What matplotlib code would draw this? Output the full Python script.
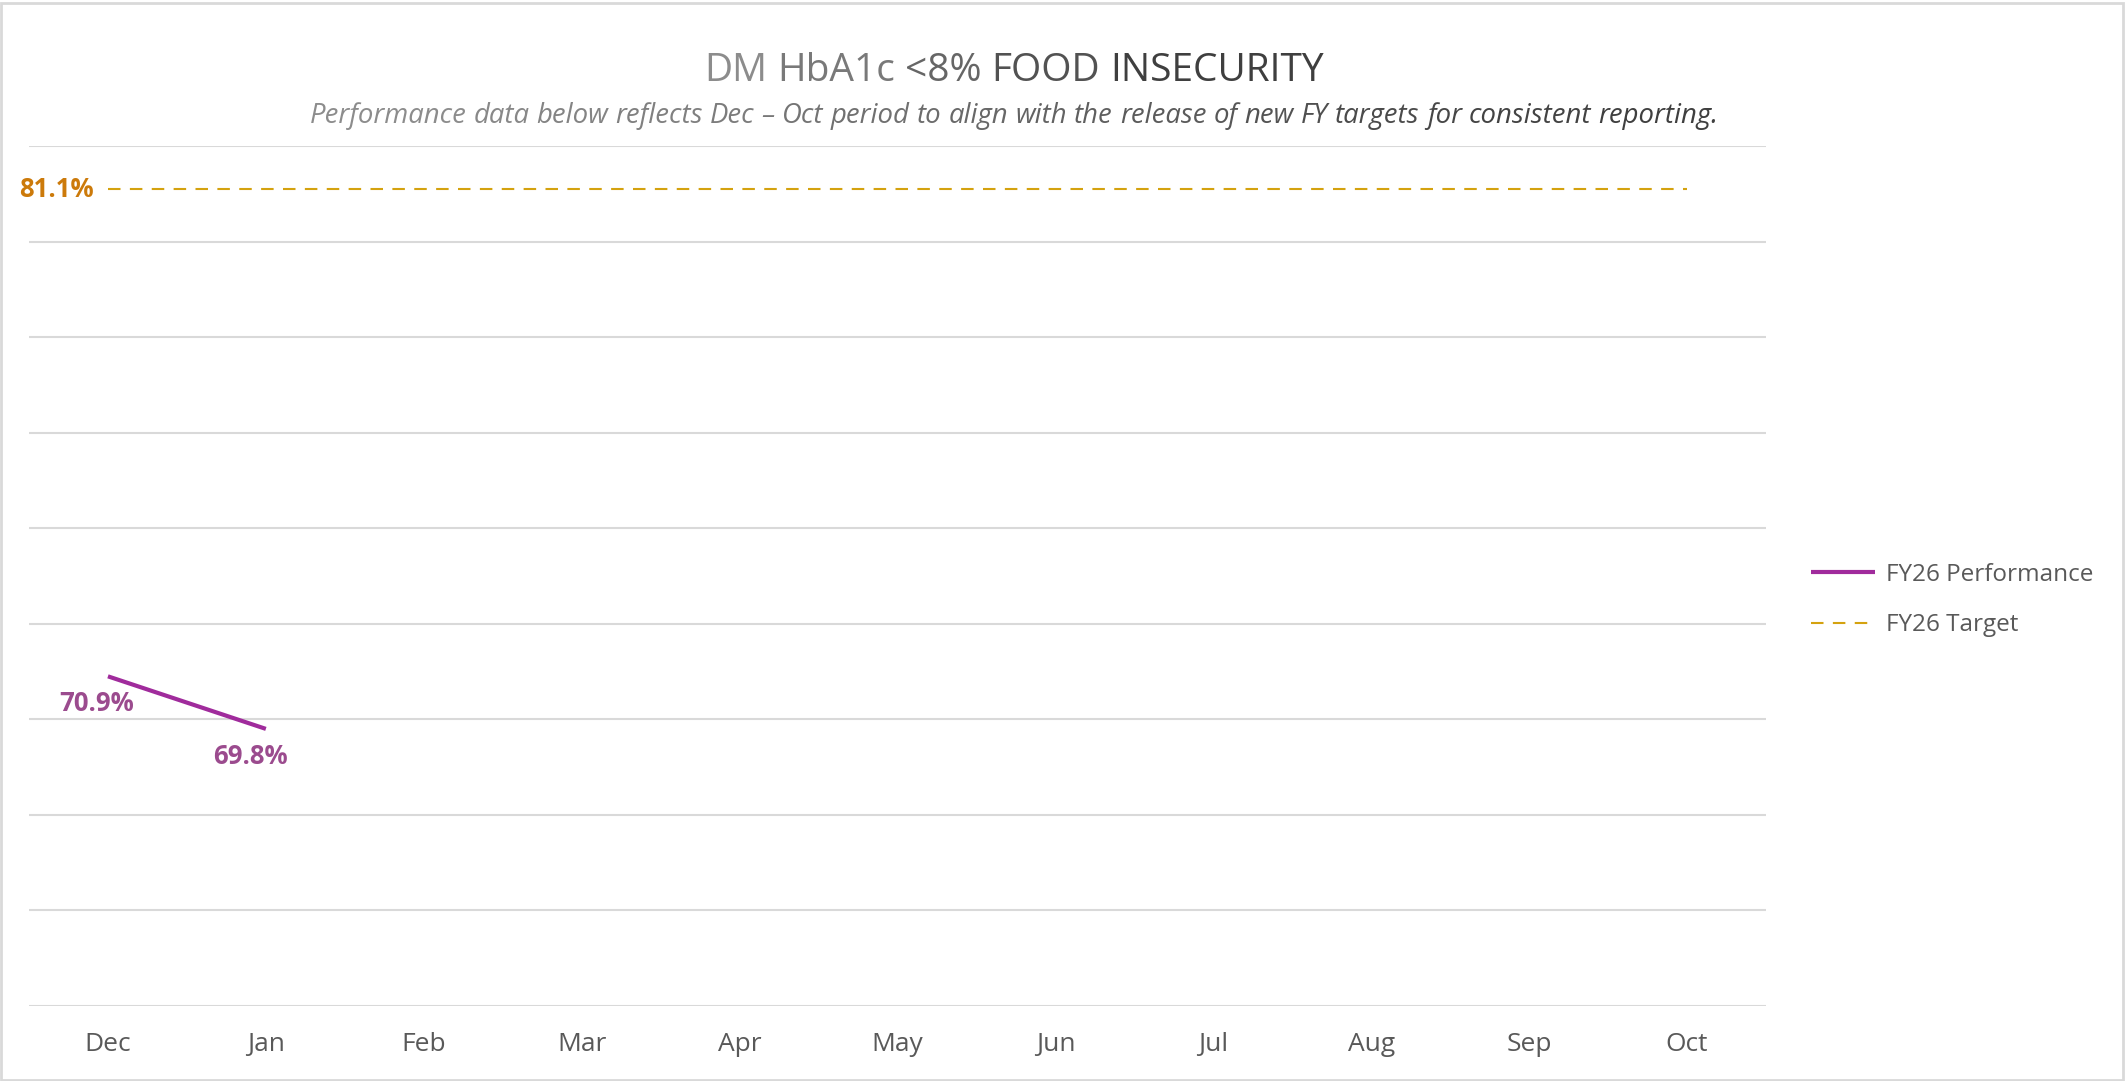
import numpy as np
import matplotlib
matplotlib.use("Agg")
import matplotlib.pyplot as plt
from matplotlib.colors import to_rgb
from matplotlib.patches import Rectangle

plt.rcParams['font.family'] = ['Open Sans', 'DejaVu Sans']

# Data
MONTHS = ["Dec", "Jan", "Feb", "Mar", "Apr", "May", "Jun", "Jul", "Aug", "Sep", "Oct"]
PERFORMANCE = [70.9, 69.8]          # only Dec and Jan reported so far
TARGET = [81.1] * len(MONTHS)
TITLE = "DM HbA1c <8% FOOD INSECURITY"
SUBTITLE = ("Performance data below reflects Dec \u2013 Oct period to align with the "
            "release of new FY targets for consistent reporting.")

W, H = 2125, 1081
PERF_COLOR = "#A02B9C"
PERF_LABEL_COLOR = "#9B4B8E"
TARGET_COLOR = "#D4A20F"
TARGET_LABEL_COLOR = "#CC7A0A"
GRID_COLOR = "#D9D9D9"
TEXT_GRAY = "#595959"


def gradient_text(fig, xc, y, text, c0, c1, **kw):
    """Centered text whose words fade from color c0 to c1."""
    r = fig.canvas.get_renderer()
    words = text.split(" ")
    probe = fig.text(0, 0, text, **kw)
    total = probe.get_window_extent(r).width
    probe.remove()
    sp = fig.text(0, 0, "a a", **kw)
    a = fig.text(0, 0, "aa", **kw)
    space_w = sp.get_window_extent(r).width - a.get_window_extent(r).width
    sp.remove()
    a.remove()
    x = xc * W - total / 2
    c0, c1 = np.array(to_rgb(c0)), np.array(to_rgb(c1))
    n = len(words)
    for i, w in enumerate(words):
        c = c0 + (c1 - c0) * (i / max(n - 1, 1))
        t = fig.text(x / W, y, w, color=c, ha="left", va="center", **kw)
        x += t.get_window_extent(r).width + space_w


fig = plt.figure(figsize=(W / 100, H / 100), dpi=100)
ax = fig.add_axes([29 / W, (H - 1006) / H, (1766 - 29) / W, (1006 - 146) / H])

x = np.arange(len(MONTHS))
ax.plot(x[:len(PERFORMANCE)], PERFORMANCE, color=PERF_COLOR, lw=3.0,
        solid_capstyle="butt", label="FY26 Performance", zorder=3)
ax.plot(x, TARGET, color=TARGET_COLOR, lw=1.5, dashes=(6, 4.5),
        label="FY26 Target", zorder=3)

# data labels
ax.annotate(f"{PERFORMANCE[0]:.1f}%", (x[0], PERFORMANCE[0]), xytext=(-11, -27),
            textcoords="offset pixels", ha="center", va="center",
            color=PERF_LABEL_COLOR, fontsize=18.5, fontweight="bold")
ax.annotate(f"{PERFORMANCE[1]:.1f}%", (x[1], PERFORMANCE[1]), xytext=(-15, -28),
            textcoords="offset pixels", ha="center", va="center",
            color=PERF_LABEL_COLOR, fontsize=18.5, fontweight="bold")
ax.annotate(f"{TARGET[0]:.1f}%", (x[0], TARGET[0]), xytext=(-52, 0),
            textcoords="offset pixels", ha="center", va="center",
            color=TARGET_LABEL_COLOR, fontsize=18.5, fontweight="bold")

ax.set_xlim(-0.5, len(MONTHS) - 0.5)
ax.set_ylim(64, 82)
ax.set_yticks(np.arange(64, 82.1, 2))
ax.set_yticklabels([])
ax.set_xticks(x)
ax.set_xticklabels(MONTHS, color=TEXT_GRAY, fontsize=19)
ax.tick_params(axis="both", length=0)
ax.tick_params(axis="x", pad=19)
ax.grid(axis="y", color=GRID_COLOR, lw=1.5)
ax.set_axisbelow(True)
for s in ax.spines.values():
    s.set_visible(False)

fig.legend(loc="center left", bbox_to_anchor=(1789 / W, 1 - 600 / H),
           frameon=False, fontsize=17.5, labelcolor=TEXT_GRAY,
           handlelength=2.65, handletextpad=0.45, labelspacing=1.08)

gradient_text(fig, 1014 / W, 1 - 71 / H, TITLE, "#8C8C8C", "#3F3F3F", fontsize=28)
gradient_text(fig, 1014 / W, 1 - 116 / H, SUBTITLE, "#8C8C8C", "#3F3F3F",
              fontsize=19.8, style="italic")

# outer frame
fig.patches.append(Rectangle((1 / W, 1 / H), 1 - 3 / W, 1 - 4 / H,
                             transform=fig.transFigure, fill=False,
                             edgecolor="#D9D9D9", lw=2))

fig.savefig("out.png", dpi=100)
